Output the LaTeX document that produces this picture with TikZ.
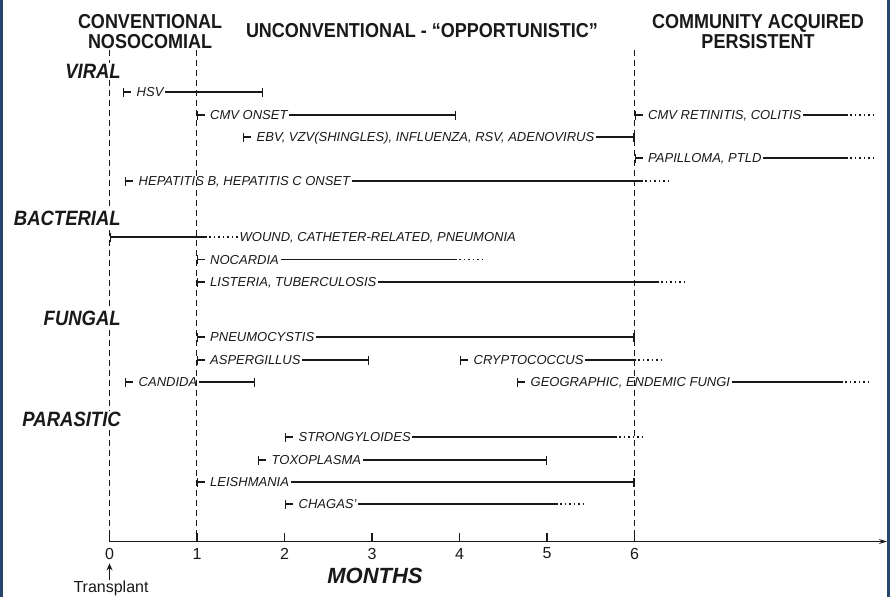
\documentclass[tikz,border=0pt]{standalone}
\usepackage{fontspec}
\usepackage{graphicx}
\setmainfont{Liberation Sans}
\usetikzlibrary{arrows.meta}
\definecolor{frameblue}{RGB}{38,68,108}
\definecolor{ink}{RGB}{25,25,25}
\tikzset{
  seg/.style={line width=1.2pt, draw=ink},
  dots/.style={line width=1.2pt, draw=ink, dash pattern=on 1.5pt off 3pt},
  lab/.style={font=\fontsize{13}{15}\selectfont\itshape, text=ink, inner sep=1.5pt, text height=9.3pt, text depth=0pt},
  cat/.style={font=\fontsize{18.5}{20}\selectfont\bfseries\itshape, text=ink, fill=white, inner sep=1pt, anchor=east},
  head/.style={font=\fontsize{18}{15.2}\selectfont\bfseries, text=ink, inner sep=0pt},
  vdash/.style={line width=1pt, draw=ink, dash pattern=on 6pt off 4pt},
  axisline/.style={line width=1.2pt, draw=ink},
  num/.style={font=\fontsize{16}{18}\selectfont, text=ink, inner sep=0pt},
}
\newcommand\Tall[1]{\scalebox{1}[1.12]{#1}}
\newcommand\TwoLines[2]{\Tall{\begin{tabular}{@{}c@{}}#1\\#2\end{tabular}}}
\newcommand\SegBar[5]{%
  \coordinate (#1s) at (#3,#2);
  \coordinate (#1e) at (#5,#2);
  \draw[seg,{Bar[width=9pt]}-] (#1s) -- ++(8,0);
  \node[lab,anchor=west] (#1) at ([xshift=12pt]#1s) {#4};
  \draw[seg,-{Bar[width=9pt]}] (#1.east) -- (#1e);
}
\newcommand\SegDot[6]{%
  \coordinate (#1s) at (#3,#2);
  \coordinate (#1e) at (#5,#2);
  \coordinate (#1d) at (#6,#2);
  \draw[seg,{Bar[width=9pt]}-] (#1s) -- ++(8,0);
  \node[lab,anchor=west] (#1) at ([xshift=12pt]#1s) {#4};
  \draw[seg] (#1.east) -- (#1e);
  \draw[dots] ([xshift=2pt]#1e) -- (#1d);
}
\begin{document}
\begin{tikzpicture}[x=1pt,y=-1pt]
\useasboundingbox (0,0) rectangle (894,597);
\fill[white] (0,0) rectangle (894,597);
% frame bars
\fill[frameblue] (0,0) rectangle (3,597);
\fill[frameblue] (887,0) rectangle (889.5,597);

% headers
\node[head] (hconv) at (150,34) {\TwoLines{CONVENTIONAL}{NOSOCOMIAL}};
\node[head] (hunconv) at (422,30.5) {\Tall{UNCONVENTIONAL - “OPPORTUNISTIC”}};
\node[head] (hcomm) at (758,34) {\TwoLines{COMMUNITY ACQUIRED}{PERSISTENT}};

% dashed period lines
\coordinate (v0t) at (109.5,50); \coordinate (v0b) at (109.5,541.5);
\coordinate (v1t) at (196.5,50); \coordinate (v1b) at (196.5,541.5);
\coordinate (v6t) at (634.5,50); \coordinate (v6b) at (634.5,541.5);
\draw[vdash] (v0t) -- (v0b);
\draw[vdash] (v1t) -- (v1b);
\draw[vdash] (v6t) -- (v6b);

% categories
\node[cat] (cviral) at (122,71) {\Tall{VIRAL}};
\node[cat] (cbact) at (122,218) {\Tall{BACTERIAL}};
\node[cat] (cfung) at (122,318) {\Tall{FUNGAL}};
\node[cat] (cpara) at (122,419) {\Tall{PARASITIC}};

% viral
\SegBar{hsv}{92}{123}{HSV}{263}
\SegBar{cmv}{115}{196.5}{CMV ONSET}{456}
\SegDot{cmvr}{115}{634.5}{CMV RETINITIS, COLITIS}{848}{875}
\SegBar{ebv}{137}{243}{EBV, VZV(SHINGLES), INFLUENZA, RSV, ADENOVIRUS}{634.5}
\SegDot{pap}{158}{634.5}{PAPILLOMA, PTLD}{848}{875}
\SegDot{hep}{181}{125}{HEPATITIS B, HEPATITIS C ONSET}{643}{670}

% bacterial
\coordinate (wounds) at (109.5,237);
\coordinate (wounde) at (207,237);
\node[lab,anchor=west] (wound) at (238,237) {WOUND, CATHETER-RELATED, PNEUMONIA};
\draw[seg,{Bar[width=9pt]}-] (wounds) -- (wounde);
\draw[dots] ([xshift=2pt]wounde) -- (wound.west);
\SegDot{noc}{259.5}{196.5}{NOCARDIA}{457}{483}
\SegDot{lis}{282}{196.5}{LISTERIA, TUBERCULOSIS}{659}{686}

% fungal
\SegBar{pneu}{337}{196.5}{PNEUMOCYSTIS}{634.5}
\SegBar{asp}{360}{196.5}{ASPERGILLUS}{369}
\SegDot{cry}{360}{460}{CRYPTOCOCCUS}{636}{662}
\SegBar{can}{382}{125}{CANDIDA}{255}
\SegDot{geo}{382}{517}{GEOGRAPHIC, ENDEMIC FUNGI}{843}{870}

% parasitic
\SegDot{str}{437}{285}{STRONGYLOIDES}{617}{643}
\SegBar{tox}{460}{258}{TOXOPLASMA}{547}
\SegBar{lei}{482}{196.5}{LEISHMANIA}{634.5}
\SegDot{cha}{504}{285}{CHAGAS’}{558}{585}

% axis
\coordinate (ax0) at (109.5,541.5);
\coordinate (ax1) at (887,541.5);
\draw[axisline,-{Stealth[length=8pt,width=5pt]}] (ax0) -- (ax1);
\foreach \m in {0,...,6}{
  \coordinate (tk\m) at ({109.5+87.5*\m},541.5);
  \draw[axisline] (tk\m) -- ++(0,-9);
  \node[num] (t\m) at ({109.5+87.5*\m},553.5) {\m};
}
\node[font=\fontsize{22}{24}\selectfont\bfseries\itshape, text=ink, inner sep=0pt] (months) at (375,576) {MONTHS};
\node[font=\fontsize{16}{18}\selectfont, text=ink, inner sep=0pt] (tr) at (111,588) {Transplant};
\draw[line width=1.2pt, draw=ink, -{Stealth[length=7pt,width=6pt]}] (tr.north -| t0) -- ([yshift=-4pt]t0.south);
\end{tikzpicture}
\end{document}
